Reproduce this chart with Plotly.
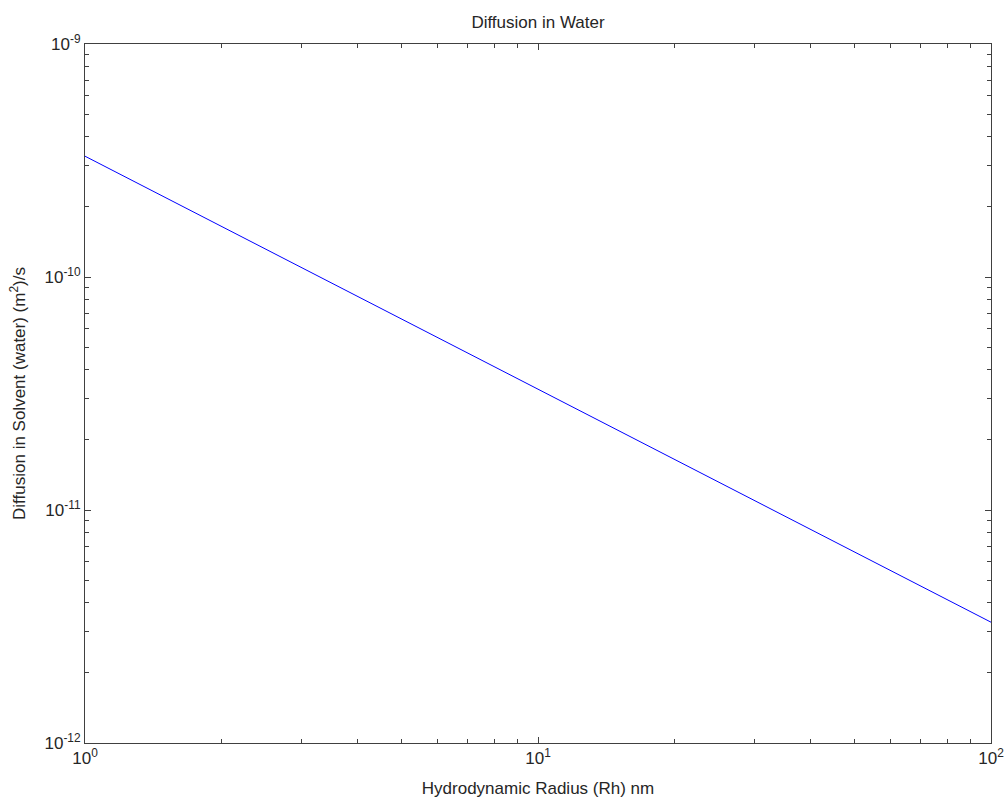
import plotly.graph_objects as go

# Hydrodynamic radius (nm) and diffusion coefficient in water (m^2/s)
radius_nm = [1, 2, 5, 10, 20, 50, 100]
diffusion = [3.3e-10, 1.65e-10, 6.6e-11, 3.3e-11, 1.65e-11, 6.6e-12, 3.3e-12]

x_tickvals = [1, 10, 100]
x_ticktext = ["10<sup>0</sup>", "10<sup>1</sup>", "10<sup>2</sup>"]
y_tickvals = [1e-12, 1e-11, 1e-10, 1e-9]
y_ticktext = ["10<sup>-12</sup>", "10<sup>-11</sup>", "10<sup>-10</sup>", "10<sup>-9</sup>"]

font = dict(family="Liberation Sans, Arial, sans-serif", size=17, color="#262626")
axis_col = "#404040"

fig = go.Figure(go.Scatter(
    x=radius_nm, y=diffusion, mode="lines",
    line=dict(color="#0000ff", width=1),
))

common = dict(
    type="log", showgrid=False, zeroline=False, automargin=False,
    ticklabeloverflow="allow",
    showline=True, linecolor=axis_col, linewidth=1, mirror="allticks",
    ticks="inside", ticklen=6, tickcolor=axis_col, tickwidth=1,
    minor=dict(ticks="inside", ticklen=4, tickcolor=axis_col, dtick="D1", showgrid=False),
    tickfont=font,
)

fig.update_layout(
    width=1004, height=799,
    margin=dict(l=85, r=13, t=44, b=56, autoexpand=False),
    paper_bgcolor="white", plot_bgcolor="white",
    showlegend=False, font=font,
    title=dict(text="Diffusion in Water", x=0.5 * (85 + 991) / 1004, xanchor="center",
               y=1 - 22 / 799, yanchor="middle", font=font),
    xaxis=dict(common, range=[0, 2], tickvals=x_tickvals, ticktext=x_ticktext,
               title=dict(text="Hydrodynamic Radius (Rh) nm", font=font, standoff=14)),
    yaxis=dict(common, range=[-12, -9], tickvals=y_tickvals, ticktext=y_ticktext,
               title=dict(text="Diffusion in Solvent (water) (m<sup>2</sup>)/s", font=font, standoff=14)),
)

fig.write_html("out.html")
